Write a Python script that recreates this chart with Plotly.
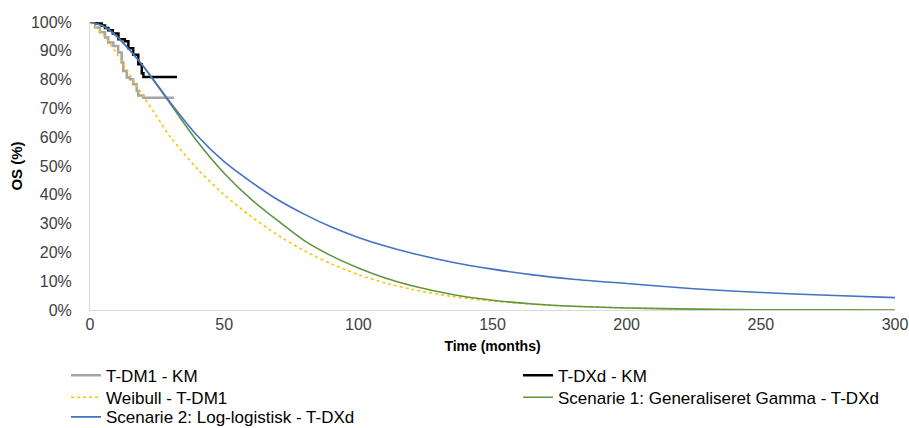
import plotly.graph_objects as go

# Kaplan-Meier step data (months, survival %)
tdm1_km_t = [0, 1.9, 3.7, 5.6, 6.8, 8.7, 10.5, 11.8, 12.4, 13.7, 14.9, 16.1, 17.4, 18.0, 19.9, 31.3]
tdm1_km_s = [100, 98.1, 96.4, 94.6, 92.9, 91.7, 89.4, 85.9, 83.0, 80.7, 80.1, 78.4, 76.0, 74.5, 73.7, 73.7]

tdxd_km_t = [0, 2.5, 4.4, 5.6, 6.8, 8.5, 10.6, 13.0, 14.3, 16.1, 18.0, 19.3, 19.9, 32.4]
tdxd_km_s = [100, 99.5, 98.8, 97.9, 97.1, 96.0, 94.0, 93.3, 90.9, 88.6, 85.3, 82.2, 80.9, 80.9]

# Extrapolated parametric curves
model_t = [0, 5, 10, 15, 20, 25, 30, 40, 50, 60, 70, 80, 90, 100, 110, 120,
           135, 150, 165, 180, 200, 225, 250, 275, 300]
weibull_tdm1 = [100, 95.5, 89, 81.5, 74, 67, 60, 49, 40, 32.5, 26, 20.5, 16, 12.3, 9.4, 7.2,
                4.7, 3.1, 2.0, 1.3, 0.7, 0.3, 0.1, 0.05, 0]
gengamma_tdxd = [100, 98.5, 95, 90, 84.5, 78, 71.5, 58.5, 47.5, 38.5, 31, 24, 18.8, 14.6, 11.1, 8.4,
                 5.4, 3.4, 2.1, 1.3, 0.7, 0.3, 0.1, 0.05, 0]
loglogistic_tdxd = [100, 98.5, 95, 90, 84.5, 78.3, 72, 60.5, 51.5, 44.5, 38.3, 33.2, 28.8, 25.2, 22.2, 19.7,
                    16.6, 14.2, 12.2, 10.7, 9.2, 7.4, 6.1, 5.1, 4.3]

x_ticks = [0, 50, 100, 150, 200, 250, 300]
y_ticks = [0, 10, 20, 30, 40, 50, 60, 70, 80, 90, 100]

FONT = "Liberation Sans, Arial, sans-serif"

fig = go.Figure()
fig.add_trace(go.Scatter(x=tdm1_km_t, y=[v / 100 for v in tdm1_km_s], mode="lines",
                         line=dict(color="#a5a5a5", width=2.5, shape="hv"),
                         name="T-DM1 - KM", legend="legend"))
fig.add_trace(go.Scatter(x=tdxd_km_t, y=[v / 100 for v in tdxd_km_s], mode="lines",
                         line=dict(color="#000000", width=2.5, shape="hv"),
                         name="T-DXd - KM", legend="legend2"))
fig.add_trace(go.Scatter(x=model_t, y=[v / 100 for v in weibull_tdm1], mode="lines",
                         line=dict(color="#ffc000", width=1.5, dash="dot", shape="spline", smoothing=0.8),
                         name="Weibull - T-DM1", legend="legend3"))
fig.add_trace(go.Scatter(x=model_t, y=[v / 100 for v in gengamma_tdxd], mode="lines",
                         line=dict(color="#5e9640", width=1.6, shape="spline", smoothing=0.8),
                         name="Scenarie 1: Generaliseret Gamma - T-DXd", legend="legend4"))
fig.add_trace(go.Scatter(x=model_t, y=[v / 100 for v in loglogistic_tdxd], mode="lines",
                         line=dict(color="#4472c4", width=1.6, shape="spline", smoothing=0.8),
                         name="Scenarie 2: Log-logistisk - T-DXd", legend="legend5"))

# Legend laid out as a two-column grid below the plot
col_x = [-0.0298, 0.5317]
row_y = [-0.2281, -0.3045, -0.3725]
legend_style = dict(orientation="v", yanchor="middle", xanchor="left", itemwidth=30,
                    font=dict(family=FONT, size=17, color="#000000"),
                    bgcolor="rgba(0,0,0,0)", tracegroupgap=0)

fig.update_layout(
    width=909, height=428,
    margin=dict(l=90, r=14, t=22, b=118, autoexpand=False),
    paper_bgcolor="white", plot_bgcolor="white",
    font=dict(family=FONT, size=15, color="#404040"),
    showlegend=True,
    legend=dict(x=col_x[0], y=row_y[0], **legend_style),
    legend2=dict(x=col_x[1], y=row_y[0], **legend_style),
    legend3=dict(x=col_x[0], y=row_y[1], **legend_style),
    legend4=dict(x=col_x[1], y=row_y[1], **legend_style),
    legend5=dict(x=col_x[0], y=row_y[2], **legend_style),
)
fig.update_xaxes(range=[0, 300], tickvals=x_ticks, ticktext=[str(v) for v in x_ticks],
                 showgrid=False, zeroline=False, showline=True, linecolor="#d9d9d9", linewidth=1,
                 ticks="", tickfont=dict(size=16, color="#404040"),
                 title=dict(text="<b>Time (months)</b>", font=dict(size=14, color="#000000"), standoff=8))
fig.update_yaxes(range=[0, 1], tickvals=[v / 100 for v in y_ticks], ticktext=[f"{v}%" for v in y_ticks],
                 showgrid=False, zeroline=False, showline=True, linecolor="#d9d9d9", linewidth=1,
                 ticks="", ticklabelstandoff=14, tickfont=dict(size=16, color="#404040"),
                 title=dict(text="<b>OS (%)</b>", font=dict(size=15, color="#000000"), standoff=4))

fig.write_html("out.html")
